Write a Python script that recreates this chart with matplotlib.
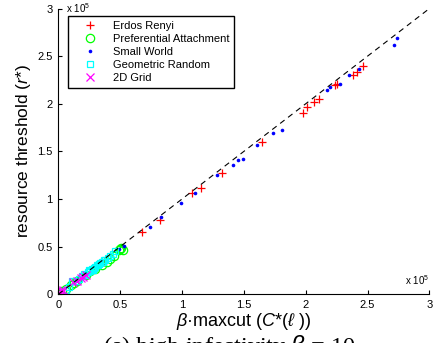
import matplotlib
matplotlib.use("Agg")
import matplotlib.pyplot as plt
from matplotlib.ticker import FuncFormatter

plt.rcParams["font.family"] = ["Liberation Sans", "DejaVu Sans"]
plt.rcParams["mathtext.fontset"] = "custom"
plt.rcParams["mathtext.rm"] = "Liberation Sans"
plt.rcParams["mathtext.it"] = "Liberation Sans:italic"
plt.rcParams["mathtext.bf"] = "Liberation Sans:bold:italic"

SCALE = 1e5

# values in units of 1e5
er_x = [0.674, 0.822, 1.078, 1.151, 1.321, 1.644, 1.976, 2.008, 2.07, 2.11,
        2.237, 2.256, 2.385, 2.412, 2.461, 0.31, 0.37]
er_y = [0.658, 0.780, 1.061, 1.120, 1.271, 1.603, 1.901, 1.971, 2.02, 2.048,
        2.198, 2.209, 2.304, 2.338, 2.398, 0.29, 0.34]

pa_x = [0.01, 0.03, 0.06, 0.10, 0.13, 0.15, 0.22, 0.26, 0.30, 0.35, 0.39,
        0.42, 0.45, 0.49, 0.50, 0.51, 0.52]
pa_y = [0.005, 0.03, 0.06, 0.095, 0.12, 0.14, 0.20, 0.24, 0.27, 0.31, 0.34,
        0.37, 0.40, 0.46, 0.48, 0.49, 0.47]

sw_x = [0.491, 0.531, 0.741, 0.830, 0.992, 1.105, 1.280, 1.410, 1.455, 1.496,
        1.609, 1.733, 1.808, 2.170, 2.196, 2.277, 2.350, 2.433, 2.714, 2.741]
sw_y = [0.472, 0.505, 0.710, 0.815, 0.962, 1.061, 1.250, 1.355, 1.411, 1.421,
        1.568, 1.691, 1.726, 2.146, 2.174, 2.206, 2.303, 2.366, 2.619, 2.689]

gr_x = [0.06, 0.09, 0.11, 0.15, 0.17, 0.19, 0.21, 0.22, 0.24, 0.25, 0.26,
        0.27, 0.28, 0.29, 0.30, 0.31, 0.32, 0.33, 0.34, 0.35, 0.36, 0.37,
        0.38, 0.40, 0.42, 0.44, 0.46]
gr_y = [0.05, 0.08, 0.14, 0.14, 0.16, 0.19, 0.21, 0.20, 0.23, 0.25, 0.24,
        0.27, 0.26, 0.28, 0.29, 0.31, 0.31, 0.32, 0.33, 0.34, 0.34, 0.36,
        0.36, 0.38, 0.40, 0.42, 0.45]

grid_x = [0.01, 0.02, 0.03, 0.04, 0.12, 0.15, 0.18, 0.20, 0.22]
grid_y = [0.01, 0.04, 0.02, 0.05, 0.13, 0.14, 0.17, 0.18, 0.20]

line_ends = [0, 3]


def sc(vals):
    return [v * SCALE for v in vals]


fig = plt.figure(figsize=(4.35, 3.43), dpi=100)
ax = fig.add_axes([0.134, 0.142, 0.853, 0.833])

ax.plot(sc(er_x), sc(er_y), "+", color="#ff0000", ms=6.3, mew=0.9,
        label="Erdos Renyi")
ax.plot(sc(pa_x), sc(pa_y), "o", color="#00ff00", mfc="none", ms=6, mew=0.9,
        label="Preferential Attachment")
ax.plot(sc(sw_x), sc(sw_y), "o", color="#0000ff", ms=2.6, mew=0,
        label="Small World")
ax.plot(sc(gr_x), sc(gr_y), "s", color="#00ffff", mfc="none", ms=4.6, mew=0.9,
        label="Geometric Random")
ax.plot(sc(grid_x), sc(grid_y), "x", color="#ff00ff", ms=5.5, mew=0.9,
        label="2D Grid")

# y = x reference line
ax.plot(sc(line_ends), sc(line_ends), "--", color="black", lw=0.8,
        dashes=(5, 4))

ax.set_xlim(0, 3 * SCALE)
ax.set_ylim(0, 3 * SCALE)
ticks = [t * SCALE for t in [0, 0.5, 1, 1.5, 2, 2.5, 3]]
ax.set_xticks(ticks)
ax.set_yticks(ticks)
fmt = FuncFormatter(lambda v, p: f"{v / SCALE:g}")
ax.xaxis.set_major_formatter(fmt)
ax.yaxis.set_major_formatter(fmt)
ax.tick_params(direction="in", length=3, width=0.8, labelsize=8, pad=4)

ax.spines["top"].set_visible(False)
ax.spines["right"].set_visible(False)
for s in ["left", "bottom"]:
    ax.spines[s].set_linewidth(0.8)

ax.text(0.02, 1.0, r"x 10$^5$", transform=ax.transAxes, fontsize=7,
        ha="left", va="center")
ax.text(1.0, 0.05, r"x 10$^5$", transform=ax.transAxes, fontsize=7,
        ha="right", va="center")

ax.set_xlabel(r"$\beta$·maxcut ($C$*($\ell$ ))", fontsize=13, labelpad=1)
ax.set_ylabel(r"resource threshold ($r$*)", fontsize=12.5, labelpad=3)

leg = ax.legend(loc="upper left", bbox_to_anchor=(0.026, 0.974),
                borderaxespad=0, fontsize=8, numpoints=1, handlelength=3,
                handletextpad=0.6, labelspacing=0.27, borderpad=0.45,
                fancybox=False, framealpha=1, edgecolor="black")
leg.get_frame().set_linewidth(1.0)

fig.text(0.528, -0.03, r"(a) high infectivity $\beta$ = 10",
         family=["Liberation Serif", "DejaVu Serif"], fontsize=17.5,
         ha="center", va="baseline")

fig.savefig("out.png", dpi=100)
